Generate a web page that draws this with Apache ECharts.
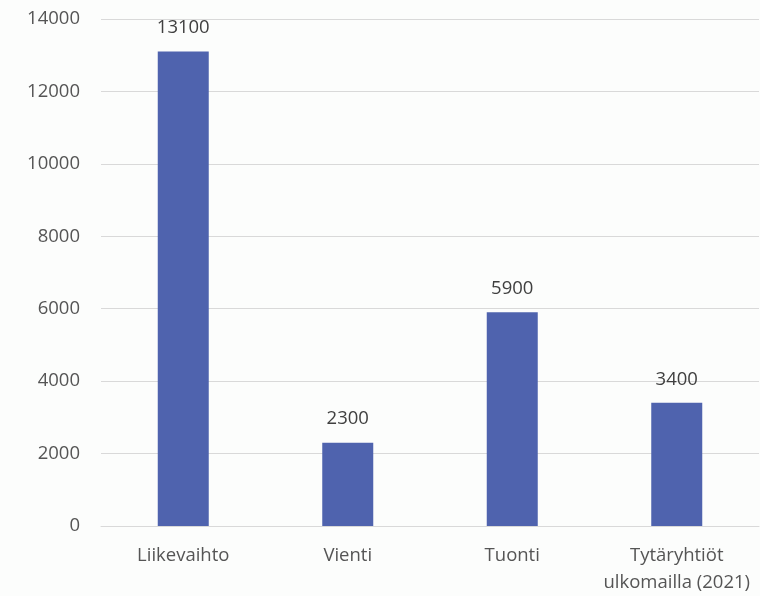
<!DOCTYPE html>
<html><head><meta charset="utf-8">
<script src="https://cdn.jsdelivr.net/npm/echarts@6/dist/echarts.min.js"></script>
<style>html,body{margin:0;padding:0;background:#fcfdfc;}#c{width:760px;height:596px;}</style>
</head><body><div id="c"></div>
<script>
const categories = ['Liikevaihto', 'Vienti', 'Tuonti', 'Tytäryhtiöt\nulkomailla (2021)'];
const values = [13100, 2300, 5900, 3400];
const yTicks = [0, 2000, 4000, 6000, 8000, 10000, 12000, 14000];

const chart = echarts.init(document.getElementById('c'));
const txt = '#555555';
const font = '"Open Sans", sans-serif';
chart.setOption({
  backgroundColor: '#fcfdfc',
  animation: false,
  grid: {left: 101, right: 1, top: 19, bottom: 70, outerBoundsMode: 'none', containLabel: false},
  xAxis: {
    type: 'category', data: categories,
    axisLine: {show: true, lineStyle: {color: '#d9d9d9', width: 1}},
    axisTick: {show: false},
    axisLabel: {color: txt, fontSize: 18.5, fontFamily: font, margin: 16, lineHeight: 27, interval: 0}
  },
  yAxis: {
    type: 'value', min: yTicks[0], max: yTicks[yTicks.length - 1], interval: 2000,
    axisLine: {show: false}, axisTick: {show: false},
    splitLine: {lineStyle: {color: '#d9d9d9', width: 1}},
    axisLabel: {color: txt, fontSize: 18.5, fontFamily: font, margin: 21, formatter: v => String(v)}
  },
  series: [{
    type: 'bar', data: values, barWidth: '31%',
    itemStyle: {color: '#4f63ae'},
    label: {show: true, position: 'top', distance: 14, color: '#404040', fontSize: 18.5, fontFamily: font}
  }]
});
</script></body></html>
